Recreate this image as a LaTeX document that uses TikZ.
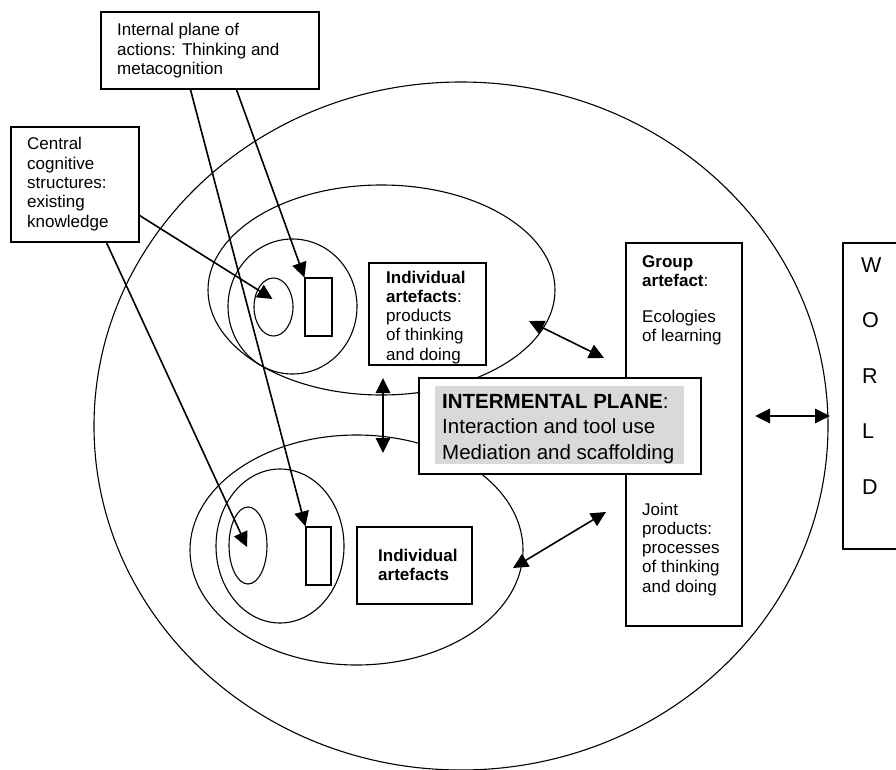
\documentclass[tikz,border=0pt]{standalone}
\usepackage{fontspec}
\setmainfont{Liberation Sans}
\usetikzlibrary{shapes.geometric,arrows.meta,calc}
\definecolor{interg}{RGB}{217,217,217}
\newcommand\mlines[1]{\begin{tabular}[t]{@{}l@{}}#1\end{tabular}}
\begin{document}
\begin{tikzpicture}[x=1pt,y=-1pt,
  shp/.style={draw,line width=1.1pt,inner sep=0pt},
  ell/.style={shp,ellipse},
  boxx/.style={shp,rectangle},
  arr/.style={line width=1.6pt,-{Triangle[length=15pt,width=14.5pt]}},
  darr/.style={line width=1.6pt,{Triangle[length=15pt,width=14.5pt]}-{Triangle[length=15pt,width=14.5pt]}},
  txt/.style={anchor=base west,inner sep=0pt,font=\fontsize{17}{19.3}\selectfont},
  bigtxt/.style={anchor=base west,inner sep=0pt,font=\fontsize{20.5}{25.5}\selectfont},
  wtxt/.style={anchor=base west,inner sep=0pt,font=\fontsize{21.5}{25}\selectfont},
]
\useasboundingbox (0,0) rectangle (896,770);
% outer world circle
\node[ell,minimum width=734pt,minimum height=688pt] (outer) at (461,426) {};
% upper individual
\node[ell,minimum width=347pt,minimum height=210pt] (uell) at (381.5,290) {};
\node[ell,minimum width=129pt,minimum height=135pt] (ucirc) at (292.5,306.5) {};
\node[ell,minimum width=39pt,minimum height=58pt] (usmall) at (273.5,307) {};
\node[boxx,minimum width=27pt,minimum height=58pt] (urect) at (318.5,307) {};
\node[boxx,minimum width=117pt,minimum height=102pt] (uind) at (427.5,314) {};
% lower individual
\node[ell,minimum width=333pt,minimum height=230pt] (lell) at (356.5,550) {};
\node[ell,minimum width=128pt,minimum height=154pt] (lcirc) at (280,546) {};
\node[ell,minimum width=38pt,minimum height=77pt] (lsmall) at (248,545.5) {};
\node[boxx,minimum width=25pt,minimum height=58pt] (lrect) at (318.5,556) {};
\node[boxx,minimum width=115pt,minimum height=77pt] (lind) at (414.5,565.5) {};
% group artefact
\node[boxx,minimum width=116pt,minimum height=383pt] (group) at (684,434.5) {};
% world box (cut by the page edge)
\coordinate (wtop) at (897,243);
\coordinate (wbot) at (897,549);
\draw[line width=1.1pt] (wtop) -| (843,549) -- (wbot);
% top-left boxes
\node[boxx,minimum width=218pt,minimum height=77pt] (intl) at (210,50.5) {};
\node[boxx,minimum width=128pt,minimum height=115pt] (cent) at (75,184.5) {};
% intermental plane
\node[boxx,fill=white,minimum width=282pt,minimum height=96pt] (inter) at (560,426) {};
\node[fill=interg,inner sep=0pt,minimum width=249pt,minimum height=78pt] (intergray) at (559.5,425) {};

% texts
\node[txt] (tintl) at (117,36) {\mlines{Internal plane of\\actions: Thinking and\\metacognition}};
\node[txt] (tcent) at (27,150) {\mlines{Central\\cognitive\\structures:\\existing\\knowledge}};
\node[txt] (tuind) at (386,283) {\mlines{\textbf{Individual}\\\textbf{artefacts}:\\products\\of thinking\\and doing}};
\node[txt] (tlind) at (378,561) {\mlines{\textbf{Individual}\\\textbf{artefacts}}};
\node[txt] (tgroup) at (642,267) {\mlines{\textbf{Group}\\\textbf{artefact}:}};
\node[txt] (teco) at (642,322) {\mlines{Ecologies\\of learning}};
\node[txt] (tjoint) at (642,515) {\mlines{Joint\\products:\\processes\\of thinking\\and doing}};
\node[bigtxt] (tinter) at (442,408) {\mlines{\textbf{INTERMENTAL PLANE}:\\Interaction and tool use\\Mediation and scaffolding}};
\node[wtxt] (tW) at (861,272) {W};
\node[wtxt] (tO) at (862,327) {O};
\node[wtxt] (tR) at (862,383) {R};
\node[wtxt] (tL) at (862,438) {L};
\node[wtxt] (tD) at (862,494) {D};

% connectors
\draw[arr] ($(intl.south west)+(136,0)$) -- (urect.north west);
\draw[arr] ($(intl.south west)+(90,0)$) -- (lrect.north west);
\draw[arr] ($(cent.north east)+(0,89)$) -- ($(usmall.center)+(-1,-8)$);
\draw[arr] ($(cent.south west)+(96,0)$) -- ($(lsmall.center)+(-1,1.5)$);
\coordinate (vtop) at (383,378);
\coordinate (vbot) at (383,453);
\draw[darr] (vtop) -- (vbot);
\coordinate (ud1) at (529,321);
\coordinate (ud2) at (604,358);
\draw[darr] (ud1) -- (ud2);
\coordinate (ld1) at (513,568);
\coordinate (ld2) at (606,512);
\draw[darr] (ld1) -- (ld2);
\coordinate (wa1) at (755,416);
\coordinate (wa2) at (830,416);
\draw[darr] (wa1) -- (wa2);
\end{tikzpicture}
\end{document}
